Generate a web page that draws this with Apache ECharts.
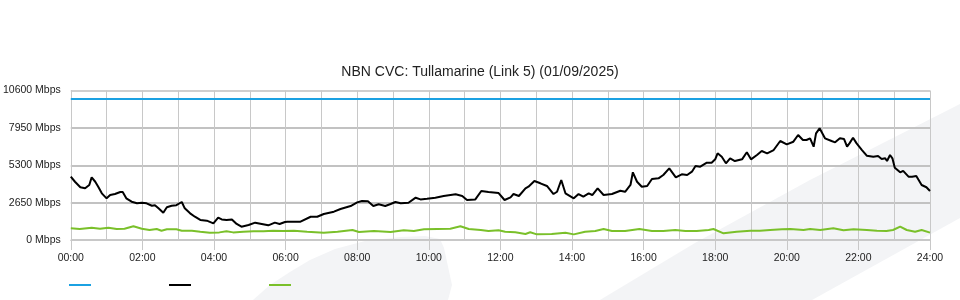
<!DOCTYPE html>
<html>
<head>
<meta charset="utf-8">
<script src="https://cdn.jsdelivr.net/npm/echarts@6/dist/echarts.min.js"></script>
<style>
html,body{margin:0;padding:0;background:#fff;}
#chart{width:960px;height:300px;}
</style>
</head>
<body>
<div id="chart"></div>
<script>
var titleText = 'NBN CVC: Tullamarine (Link 5) (01/09/2025)';
var xTickLabels = ['00:00','02:00','04:00','06:00','08:00','10:00','12:00','14:00','16:00','18:00','20:00','22:00','24:00'];
var yTickValues = [0, 2650, 5300, 7950, 10600];

var capacityMin = [0, 1440];
var capacityVal = [10000, 10000];

var trafficMin = [0,7,16,24,31,35,41,46,52,60,66,74,83,87,93,102,111,119,127,136,141,147,155,161,169,177,186,191,200,208,217,228,239,247,253,261,270,278,286,298,309,320,331,342,350,359,363,385,402,413,424,441,452,469,480,488,498,507,516,527,536,544,553,566,578,586,597,611,625,645,656,664,678,688,700,717,727,737,742,751,762,767,777,787,798,809,815,822,829,843,851,859,868,874,883,893,907,921,929,938,942,949,957,966,974,985,993,1003,1014,1024,1033,1041,1047,1055,1066,1074,1080,1084,1091,1098,1105,1113,1125,1133,1140,1150,1158,1167,1178,1189,1200,1211,1219,1227,1233,1239,1245,1249,1255,1264,1275,1281,1289,1296,1301,1305,1311,1317,1326,1334,1345,1353,1359,1365,1368,1373,1377,1381,1390,1395,1404,1410,1417,1426,1434,1440];
var trafficVal = [4490,4130,3740,3665,3900,4445,4130,3780,3310,2955,3190,3260,3400,3400,2955,2715,2600,2645,2600,2430,2470,2245,1935,2320,2430,2470,2695,2245,1890,1650,1420,1370,1180,1580,1460,1420,1460,1135,945,1065,1230,1135,1040,1230,1135,1275,1300,1300,1650,1650,1845,2010,2200,2410,2670,2765,2740,2410,2530,2410,2550,2695,2600,2645,3000,2880,2930,3000,3120,3240,3120,2835,2880,3475,3400,3330,2835,3025,3260,3120,3665,3780,4180,4020,3830,3260,3420,4255,3310,2955,3260,3070,3310,3190,3665,3190,3260,3495,3420,3900,4800,4130,3780,3830,4325,4370,4610,5080,4445,4660,4610,4845,5245,5200,5480,5480,5720,6145,5900,5440,5790,5600,5720,6220,5720,6025,6310,6145,6380,7020,6785,6970,7445,7090,7090,7210,6615,7565,7920,7210,7020,6925,7210,7160,6615,6850,7255,6850,6380,5975,5900,5950,5745,5790,5600,6025,5790,5125,4800,4900,4490,4490,4540,3900,3740,3475];

var upMin = [0,15,35,49,63,77,90,105,119,132,144,152,161,177,186,203,217,233,249,261,272,289,306,323,339,356,374,396,424,447,472,483,508,536,558,575,592,614,636,653,667,687,700,717,728,745,762,770,781,806,829,843,862,879,893,907,929,953,974,993,1013,1030,1049,1069,1077,1094,1116,1139,1155,1172,1192,1206,1228,1239,1256,1278,1295,1312,1334,1351,1367,1378,1390,1401,1415,1426,1440];
var upVal = [830,780,875,800,875,780,800,970,800,710,780,660,760,760,660,660,590,520,540,615,540,590,615,615,660,640,660,590,520,590,710,565,640,565,685,640,760,780,800,970,780,710,640,685,590,545,425,545,400,425,520,400,590,640,780,640,640,780,640,640,710,640,640,710,780,475,590,660,660,710,760,780,710,780,710,830,685,760,710,660,640,710,945,710,590,710,520];

function pairs(a, b) { return a.map(function (t, i) { return [t, b[i]]; }); }

var chart = echarts.init(document.getElementById('chart'), null, {renderer: 'canvas'});
var FONT = '"Liberation Sans", Arial, sans-serif';
var GRID_COLOR = '#c8c8c8';

function legendItem(name, left) {
  return {data: [name], left: left, top: 284, padding: 0, icon: 'rect', itemWidth: 22, itemHeight: 2,
          formatter: function () { return ''; }, textStyle: {fontSize: 10}};
}

chart.setOption({
  animation: false,
  backgroundColor: '#ffffff',
  title: {
    text: titleText,
    left: 'center',
    top: 60,
    textStyle: {fontFamily: FONT, fontSize: 14, fontWeight: 'normal', color: '#222'}
  },
  graphic: [
    {type: 'polygon', z: -10, silent: true,
     shape: {points: [[600,300],[695,243],[810,180],[960,104],[960,218],[812,300]]},
     style: {fill: '#f3f4f6'}},
    {type: 'polygon', z: -10, silent: true,
     shape: {points: [[253,300],[270,285],[290,272],[310,260],[335,249],[365,241],[400,237],[425,236],[440,239],[444,248],[452,285],[448,300]]},
     style: {fill: '#f3f4f6'}}
  ],
  legend: [legendItem('Capacity', 69), legendItem('Traffic', 169), legendItem('Upload', 269)],
  grid: {left: 70, right: 30, top: 90.5, bottom: 60, containLabel: false},
  xAxis: {
    type: 'value', min: 0, max: 1440, interval: 120,
    axisLine: {show: true, lineStyle: {color: GRID_COLOR, width: 1}},
    axisTick: {show: true, length: 10, lineStyle: {color: GRID_COLOR}},
    axisLabel: {
      margin: 13, color: '#222', fontFamily: FONT, fontSize: 10.5,
      formatter: function (v) { return xTickLabels[Math.round(v / 120)]; }
    },
    splitLine: {show: true, lineStyle: {color: GRID_COLOR, width: 1}},
    minorTick: {show: false, splitNumber: 2},
    minorSplitLine: {show: true, lineStyle: {color: GRID_COLOR, width: 1}}
  },
  yAxis: {
    type: 'value', min: yTickValues[0], max: yTickValues[yTickValues.length - 1], interval: 2650,
    axisLine: {show: true, lineStyle: {color: GRID_COLOR, width: 1}},
    axisTick: {show: false},
    axisLabel: {margin: 10, color: '#222', fontFamily: FONT, fontSize: 10.5, padding: [0, 0, 4, 0],
      formatter: function (v) { return v + ' Mbps'; }},
    splitLine: {show: true, lineStyle: {color: ['#c8c8c8', '#c2c2c2', '#c2c2c2', '#c2c2c2', '#cfcfcf'], width: 2}}
  },
  series: [
    {name: 'Capacity', type: 'line', data: pairs(capacityMin, capacityVal), showSymbol: false,
     lineStyle: {color: '#1ba1e2', width: 2}, itemStyle: {color: '#1ba1e2'}, z: 3},
    {name: 'Upload', type: 'line', data: pairs(upMin, upVal), showSymbol: false,
     lineStyle: {color: '#7ac02a', width: 2}, itemStyle: {color: '#7ac02a'}, z: 3},
    {name: 'Traffic', type: 'line', data: pairs(trafficMin, trafficVal), showSymbol: false,
     lineStyle: {color: '#000000', width: 2}, itemStyle: {color: '#000000'}, z: 4}
  ]
});
</script>
</body>
</html>
